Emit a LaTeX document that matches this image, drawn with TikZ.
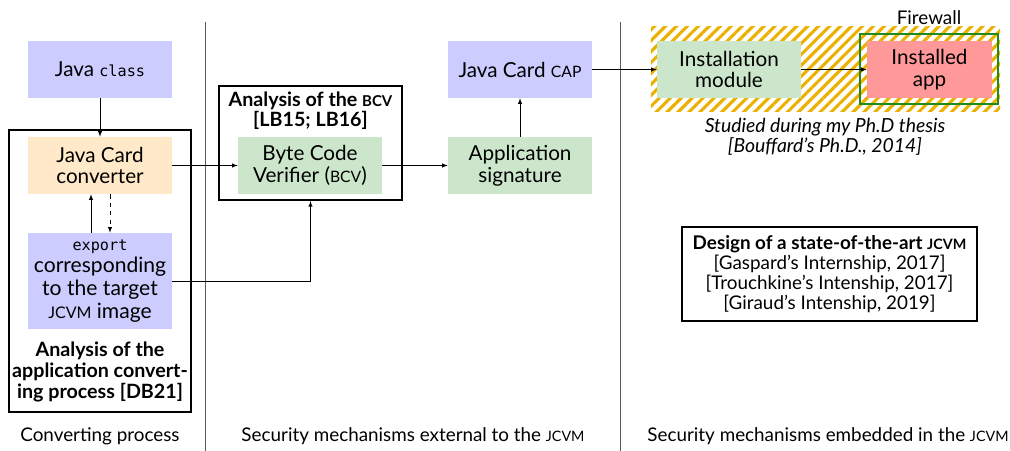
\documentclass[tikz,border=0pt]{standalone}
\usepackage{fontspec}
\setmainfont{Lato}
\setmonofont{DejaVu Sans Mono}
\usetikzlibrary{patterns.meta}

\definecolor{lavender}{HTML}{CCCCFF}
\definecolor{peach}{HTML}{FFE9C9}
\definecolor{mint}{HTML}{CCE6CC}
\definecolor{rose}{HTML}{FF9999}
\definecolor{stripe}{HTML}{EBB000}
\definecolor{fwgreen}{HTML}{1F8A1F}

\makeatletter
\newcommand{\acr}[1]{{\fontsize{\fpeval{0.76*\f@size}}{\f@baselineskip}\selectfont #1}}
\makeatother
\newcommand{\code}[1]{{\ttfamily\fontsize{10.8}{12}\selectfont #1}}

\tikzset{
  box/.style={minimum width=3.6cm, minimum height=1.425cm, align=center, inner sep=0pt,
    font=\fontsize{14.7}{15.6}\selectfont},
  frame/.style={draw, line width=1.5pt, inner sep=0pt},
  note/.style={align=center, inner sep=0pt},
}

\begin{document}
\begin{tikzpicture}[x=0.025cm, y=-0.025cm, >=latex,
  every node/.style={font=\fontsize{13.4}{14.3}\selectfont}]
\useasboundingbox (0,0) rectangle (1010,451);

% separators
\draw[gray!70!black] (205,22) -- (205,451);
\draw[gray!70!black] (620,22) -- (620,451);

% converting process
\node[frame, minimum width=4.55cm, minimum height=7.05cm] (P1F) at (100,271) {};
\node[box, fill=lavender] (P1N1) at (100,69.5) {Java \code{class}};
\node[box, fill=peach] (P1N2) at (100,165.5) {Java Card\\converter};
\node[box, fill=lavender, minimum height=2.4cm, font=\fontsize{15}{16.3}\selectfont] (P1N3) at (100,281)
  {\code{export}\\corresponding\\to the target\\\acr{JCVM} image};
\node[note, font=\fontsize{14}{14.9}\selectfont\bfseries] (P1T) at (100,372) {Analysis of the\\application convert-\\ing process [DB21]};

% external mechanisms
\node[frame, minimum width=4.575cm, minimum height=2.85cm] (P2F) at (310.5,143) {};
\node[note, font=\fontsize{14}{14.4}\selectfont\bfseries] (P2T) at (310.5,111) {Analysis of the \acr{BCV}\\{}[LB15; LB16]};
\node[box, fill=mint] (P2N1) at (310,165.5) {Byte Code\\Verifier (\acr{BCV})};
\node[box, fill=mint] (P2N2) at (520,165.5) {Application\\signature};
\node[box, fill=lavender] (P2N3) at (520,69.5) {Java Card \acr{CAP}};

% embedded mechanisms
\node[minimum width=8.725cm, minimum height=2.1cm, inner sep=0pt,
  pattern={Lines[angle=45, distance=5.5pt, line width=2.2pt]}, pattern color=stripe] (P3H) at (825.5,69) {};
\node[draw=fwgreen, line width=1.2pt, minimum width=3.45cm, minimum height=1.75cm, inner sep=0pt,
  label={[inner sep=6pt]above:{Firewall}}] (P3F) at (929,69) {};
\node[box, fill=mint] (P3N1) at (729,69.5) {Installation\\module};
\node[box, fill=rose, minimum width=3.125cm] (P3N2) at (929.5,69.5) {Installed\\app};
\node[note, font=\fontsize{13.8}{14.3}\selectfont\itshape] (P3T) at (825,137) {Studied during my Ph.D thesis\\{}[Bouffard's Ph.D., 2014]};
\node[frame, minimum width=7.375cm, minimum height=2.35cm, align=center] (P3B) at (829.5,274)
  {\textbf{Design of a state-of-the-art \acr{JCVM}}\\{}[Gaspard's Internship, 2017]\\{}[Trouchkine's Intenship, 2017]\\{}[Giraud's Intenship, 2019]};

% captions
\node (C1) at (100,436) {Converting process};
\node (C2) at (413,436) {Security mechanisms external to the \acr{JCVM}};
\node (C3) at (828,436) {Security mechanisms embedded in the \acr{JCVM}};

% connectors
\draw[->] (P1N1) -- (P1N2);
\draw[->] ([xshift=-0.225cm]P1N3.north) -- ([xshift=-0.225cm]P1N2.south);
\draw[->, dashed] ([xshift=0.25cm]P1N2.south) -- ([xshift=0.25cm]P1N3.north);
\draw[->] (P1N2) -- (P2N1);
\draw[->] (P1N3.east) -| (P2F.south);
\draw[->] (P2N1) -- (P2N2);
\draw[->] (P2N2) -- (P2N3);
\draw[->] (P2N3) -- (P3N1);
\draw[->] (P3N1) -- (P3N2);
\end{tikzpicture}
\end{document}
